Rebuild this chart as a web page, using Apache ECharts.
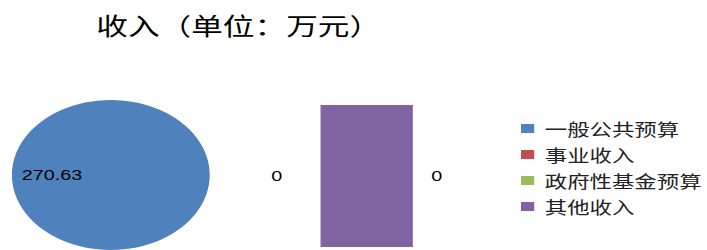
<!DOCTYPE html>
<html>
<head>
<meta charset="utf-8">
<script src="https://cdn.jsdelivr.net/npm/echarts@6/dist/echarts.min.js"></script>
<style>
  html, body { margin: 0; padding: 0; background: #fff; overflow: hidden; }
  /* the source picture is stretched sideways, so draw narrow and widen it */
  #chart { width: 536px; height: 250px; transform: scaleX(1.319); transform-origin: 0 0; }
</style>
</head>
<body>
<div id="chart"></div>
<script>
const categories = ['一般公共预算', '事业收入', '政府性基金预算', '其他收入'];
const values = [270.63, 0, 0, 0];
const otherBlock = [1];

const palette = ['#4f81bd', '#c0504d', '#9bbb59', '#8064a2'];

const chart = echarts.init(document.getElementById('chart'), null, { renderer: 'svg' });

chart.setOption({
  animation: false,
  color: palette,
  title: {
    text: '收入（单位：万元）',
    left: 68,
    top: 7,
    textStyle: {
      fontFamily: 'Noto Sans CJK SC',
      fontSize: 24,
      fontWeight: 'normal',
      color: '#000'
    }
  },
  legend: {
    orient: 'vertical',
    left: 390,
    top: 115,
    itemWidth: 10,
    itemHeight: 9,
    itemGap: 9,
    icon: 'rect',
    data: categories,
    textStyle: {
      fontFamily: 'Noto Sans CJK SC',
      fontSize: 17,
      color: '#222',
      padding: [0, 0, 0, 3]
    }
  },
  grid: {
    left: 243,
    top: 105,
    width: 70,
    height: 142
  },
  xAxis: {
    type: 'category',
    data: ['block'],
    show: false
  },
  yAxis: {
    type: 'value',
    min: 0,
    max: 1,
    show: false
  },
  series: [
    {
      name: '收入',
      type: 'pie',
      center: [84, 175],
      radius: 75,
      startAngle: 0,
      itemStyle: { borderWidth: 0 },
      label: {
        position: 'inside',
        formatter: '{c}',
        color: '#000',
        fontFamily: 'Liberation Sans',
        fontSize: 15
      },
      labelLayout: { dx: -4 },
      data: categories.map((name, i) => ({
        name,
        value: values[i],
        label: { show: i === 0 }
      }))
    },
    {
      name: 'otherBlock',
      type: 'bar',
      barWidth: '100%',
      itemStyle: { color: palette[3] },
      label: {
        show: true,
        position: 'left',
        distance: 29,
        color: '#000',
        fontFamily: 'Liberation Sans',
        fontSize: 15,
        formatter: () => String(values[1])
      },
      data: otherBlock
    },
    {
      name: 'otherBlockRight',
      type: 'bar',
      barWidth: '100%',
      barGap: '-100%',
      itemStyle: { color: 'transparent' },
      label: {
        show: true,
        position: 'right',
        distance: 14,
        color: '#000',
        fontFamily: 'Liberation Sans',
        fontSize: 15,
        formatter: () => String(values[2])
      },
      data: otherBlock
    }
  ]
});
</script>
</body>
</html>
